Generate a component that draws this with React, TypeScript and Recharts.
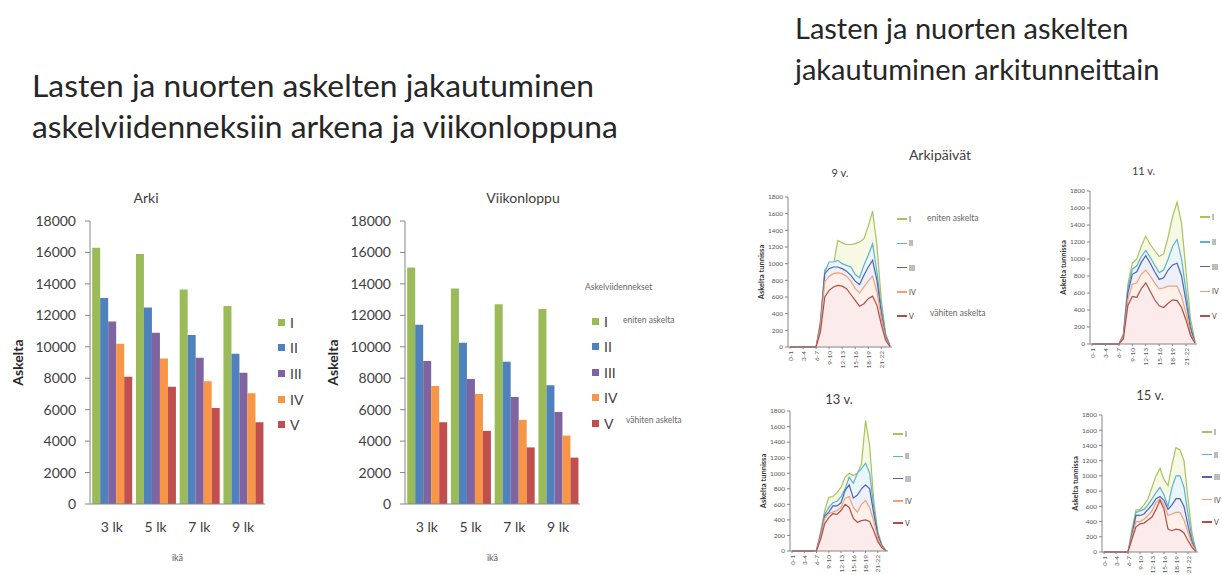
import { Area, AreaChart, Bar, BarChart, XAxis, YAxis } from 'recharts'

const FONT = 'Lato, "Liberation Sans", Arial, sans-serif'
const AXIS = '#868686'
const INK = '#404040'

const GRADES = ['3 lk', '5 lk', '7 lk', '9 lk']
const QUINTILES = ['I', 'II', 'III', 'IV', 'V']
const BAR_COLORS = ['#9bbb59', '#4f81bd', '#8064a2', '#f79646', '#c0504d']
const LINE_COLORS = ['#a8c25c', '#5cb3d1', '#4f64ad', '#f2a07c', '#b24d47']
// pale tints painted under each hourly line
const LINE_TINTS = ['#f7f9e4', '#eaf6fa', '#eef0f9', '#fdf1e9', '#fbeceb']
const STEP_TICKS = [0, 2000, 4000, 6000, 8000, 10000, 12000, 14000, 16000, 18000]

// steps per day on weekdays, one value per grade
const WEEKDAY_I = [16300, 15900, 13650, 12600]
const WEEKDAY_II = [13100, 12500, 10750, 9550]
const WEEKDAY_III = [11600, 10900, 9300, 8350]
const WEEKDAY_IV = [10200, 9250, 7800, 7050]
const WEEKDAY_V = [8100, 7450, 6100, 5200]

// steps per day at weekends
const WEEKEND_I = [15050, 13700, 12700, 12400]
const WEEKEND_II = [11400, 10250, 9050, 7550]
const WEEKEND_III = [9100, 7950, 6800, 5850]
const WEEKEND_IV = [7500, 7000, 5350, 4350]
const WEEKEND_V = [5200, 4650, 3600, 2950]

const HOURS = [
  '0-1', '1-2', '2-3', '3-4', '4-5', '5-6', '6-7', '7-8', '8-9', '9-10', '10-11', '11-12',
  '12-13', '13-14', '14-15', '15-16', '16-17', '17-18', '18-19', '19-20', '20-21', '21-22', '22-23', '23-24',
]
const HOUR_TICKS = [0, 200, 400, 600, 800, 1000, 1200, 1400, 1600, 1800]

// steps per hour on weekdays; rows are quintiles I..V
const AGE9 = [
  [0, 0, 0, 0, 0, 0, 0, 320, 930, 970, 980, 1280, 1250, 1230, 1230, 1240, 1260, 1300, 1450, 1630, 1220, 560, 160, 20],
  [0, 0, 0, 0, 0, 0, 0, 280, 900, 1020, 1020, 1040, 1000, 980, 960, 870, 830, 980, 1100, 1240, 900, 470, 140, 12],
  [0, 0, 0, 0, 0, 0, 0, 270, 880, 940, 960, 960, 940, 910, 860, 790, 750, 860, 960, 1040, 800, 410, 120, 8],
  [0, 0, 0, 0, 0, 0, 0, 230, 780, 850, 880, 890, 880, 850, 790, 700, 650, 720, 790, 850, 660, 340, 100, 8],
  [0, 0, 0, 0, 0, 0, 0, 180, 600, 680, 720, 740, 730, 700, 630, 560, 490, 520, 580, 610, 500, 270, 80, 5],
]
const AGE11 = [
  [0, 0, 0, 0, 0, 0, 0, 120, 700, 950, 1000, 1150, 1270, 1170, 1100, 1030, 1060, 1260, 1500, 1670, 1420, 850, 300, 30],
  [0, 0, 0, 0, 0, 0, 0, 100, 650, 880, 920, 1030, 1100, 1020, 930, 840, 870, 1000, 1150, 1230, 1000, 620, 220, 20],
  [0, 0, 0, 0, 0, 0, 0, 90, 600, 820, 850, 960, 1040, 950, 850, 760, 780, 870, 930, 950, 800, 500, 180, 15],
  [0, 0, 0, 0, 0, 0, 0, 80, 520, 700, 720, 820, 870, 800, 720, 650, 660, 680, 680, 680, 560, 360, 130, 10],
  [0, 0, 0, 0, 0, 0, 0, 60, 450, 560, 550, 650, 720, 620, 520, 450, 430, 480, 520, 510, 430, 280, 100, 8],
]
const AGE13 = [
  [0, 0, 0, 0, 0, 0, 10, 250, 520, 690, 700, 750, 820, 950, 1000, 970, 1000, 1120, 1680, 1350, 650, 250, 80, 5],
  [0, 0, 0, 0, 0, 0, 10, 220, 470, 560, 620, 640, 700, 800, 950, 870, 1000, 1060, 1130, 1000, 560, 220, 70, 5],
  [0, 0, 0, 0, 0, 0, 8, 200, 450, 500, 580, 580, 620, 780, 850, 680, 720, 800, 850, 800, 480, 200, 60, 5],
  [0, 0, 0, 0, 0, 0, 6, 180, 420, 480, 500, 520, 560, 680, 700, 560, 500, 600, 650, 560, 380, 160, 50, 5],
  [0, 0, 0, 0, 0, 0, 5, 150, 350, 430, 480, 470, 520, 600, 560, 420, 370, 390, 400, 380, 260, 120, 40, 3],
]
const AGE15 = [
  [0, 0, 0, 0, 0, 0, 0, 300, 550, 560, 620, 700, 850, 1000, 1100, 950, 870, 1150, 1370, 1340, 1200, 700, 250, 20],
  [0, 0, 0, 0, 0, 0, 0, 250, 520, 540, 560, 620, 700, 780, 850, 750, 600, 850, 1000, 1000, 850, 500, 180, 15],
  [0, 0, 0, 0, 0, 0, 0, 230, 480, 480, 500, 560, 620, 700, 730, 680, 560, 620, 700, 700, 600, 350, 130, 10],
  [0, 0, 0, 0, 0, 0, 0, 200, 400, 400, 430, 480, 540, 650, 700, 620, 480, 500, 520, 520, 420, 260, 100, 8],
  [0, 0, 0, 0, 0, 0, 0, 170, 330, 370, 380, 420, 460, 560, 680, 560, 300, 280, 300, 290, 250, 150, 60, 5],
]

type Row = Record<string, string | number>

function toRows(cats: string[], key: string, series: number[][]): Row[] {
  return cats.map((c, i) => {
    const row: Row = { [key]: c }
    QUINTILES.forEach((q, s) => {
      row[q] = series[s][i]
    })
    return row
  })
}

const weekdayRows = toRows(GRADES, 'grade', [WEEKDAY_I, WEEKDAY_II, WEEKDAY_III, WEEKDAY_IV, WEEKDAY_V])
const weekendRows = toRows(GRADES, 'grade', [WEEKEND_I, WEEKEND_II, WEEKEND_III, WEEKEND_IV, WEEKEND_V])

const abs = (left: number, top: number): React.CSSProperties => ({ position: 'absolute', left, top })

type BarPanelProps = { left: number; title: string; titleX: number; rows: Row[] }

function BarPanel({ left, title, titleX, rows }: BarPanelProps) {
  return (
    <>
      <div style={{ ...abs(titleX - 60, 189), width: 120, textAlign: 'center', fontSize: 14, color: INK }}>{title}</div>
      <div style={abs(left, 180)}>
        <BarChart
          width={300}
          height={390}
          data={rows}
          margin={{ top: 41, right: 35, bottom: 4, left: 13 }}
          barCategoryGap="5%"
          barGap={0}
        >
          <XAxis
            dataKey="grade"
            tickLine={false}
            axisLine={{ stroke: AXIS }}
            tick={{ fill: INK, fontSize: 14, fontFamily: FONT }}
            tickMargin={12}
            height={62}
            label={{
              value: 'ikä',
              position: 'insideBottom',
              style: { fill: '#595959', fontSize: 9, fontFamily: FONT },
            }}
          />
          <YAxis
            domain={[0, 18000]}
            ticks={STEP_TICKS}
            interval={0}
            width={77}
            tickSize={5}
            tickMargin={9}
            axisLine={{ stroke: AXIS }}
            tickLine={{ stroke: AXIS }}
            tick={{ fill: INK, fontSize: 14, fontFamily: FONT }}
            label={{
              value: 'Askelta',
              angle: -90,
              position: 'insideLeft',
              style: { textAnchor: 'middle', fontWeight: 700, fontSize: 14, fill: '#262626', fontFamily: FONT },
            }}
          />
          {QUINTILES.map((q, i) => (
            <Bar key={q} dataKey={q} fill={BAR_COLORS[i]} isAnimationActive={false} />
          ))}
        </BarChart>
      </div>
    </>
  )
}

type LegendProps = {
  x: number
  y: number
  step: number
  fontSize: number
  kind: 'box' | 'line'
  noteX?: number
}

// quintile legend; optional notes mark the most and least active fifth
function QuintileLegend({ x, y, step, fontSize, kind, noteX }: LegendProps) {
  return (
    <>
      {QUINTILES.map((q, i) => {
        const cy = y + i * step
        return (
          <div key={q} style={{ ...abs(x, cy - 8), height: 16, display: 'flex', alignItems: 'center', whiteSpace: 'nowrap' }}>
            {kind === 'box' ? (
              <span style={{ width: 7, height: 7, background: BAR_COLORS[i], marginRight: 5 }} />
            ) : (
              <span style={{ width: 10, height: 1.5, background: LINE_COLORS[i], marginRight: 2 }} />
            )}
            <span style={{ fontSize, color: INK }}>{q}</span>
          </div>
        )
      })}
      {noteX !== undefined && (
        <>
          <div style={{ ...abs(noteX, y - 6), fontSize: 8.5, color: '#666' }}>eniten askelta</div>
          <div style={{ ...abs(noteX + 3, y + 4 * step - 8), fontSize: 8.5, color: '#666' }}>vähiten askelta</div>
        </>
      )}
    </>
  )
}

function HourTick({ x, y, payload }: { x: number; y: number; payload: { value: string } }) {
  return (
    <text
      x={x}
      y={y}
      transform={`rotate(-90 ${x} ${y})`}
      textAnchor="end"
      dominantBaseline="central"
      fontSize={6.5}
      fontFamily={FONT}
      fill="#595959"
    >
      {payload.value}
    </text>
  )
}

type HourPanelProps = {
  x0: number
  x1: number
  yTop: number
  yBottom: number
  title: string
  titleY: number
  titleSize: number
  series: number[][]
}

function HourPanel({ x0, x1, yTop, yBottom, title, titleY, titleSize, series }: HourPanelProps) {
  const rows = toRows(HOURS, 'hour', series)
  const plotW = x1 - x0
  const plotH = yBottom - yTop
  return (
    <>
      <div style={{ ...abs(x0 - 40, titleY - titleSize * 0.7), width: plotW + 80, textAlign: 'center', fontSize: titleSize, color: INK }}>
        {title}
      </div>
      <div style={abs(x0 - 40, yTop - 10)}>
        <AreaChart width={40 + plotW + 6} height={10 + plotH + 34} data={rows} margin={{ top: 10, right: 6, bottom: 4, left: 8 }}>
          <XAxis
            dataKey="hour"
            interval={2}
            height={30}
            tickSize={2}
            tickMargin={2}
            padding={{ left: 2, right: 2 }}
            axisLine={{ stroke: AXIS }}
            tickLine={{ stroke: AXIS }}
            tick={HourTick}
          />
          <YAxis
            domain={[0, 1800]}
            ticks={HOUR_TICKS}
            interval={0}
            width={32}
            tickSize={3}
            tickMargin={2}
            axisLine={{ stroke: AXIS }}
            tickLine={{ stroke: AXIS }}
            tick={{ fill: '#595959', fontSize: 6.5, fontFamily: FONT }}
            label={{
              value: 'Askelta tunnissa',
              angle: -90,
              position: 'insideLeft',
              style: { textAnchor: 'middle', fontWeight: 700, fontSize: 7.5, fill: '#333', fontFamily: FONT },
            }}
          />
          {QUINTILES.map((q, i) => (
            <Area
              key={q}
              type="linear"
              dataKey={q}
              stroke={LINE_COLORS[i]}
              strokeWidth={1.2}
              fill={LINE_TINTS[i]}
              fillOpacity={1}
              dot={false}
              isAnimationActive={false}
            />
          ))}
        </AreaChart>
      </div>
    </>
  )
}

export default function App() {
  return (
    <div
      style={{
        position: 'absolute',
        left: 0,
        top: 0,
        width: 1222,
        height: 575,
        overflow: 'hidden',
        background: '#fff',
        fontFamily: FONT,
      }}
    >
      <div style={{ ...abs(32, 65), fontSize: 31.8, lineHeight: '41px', color: '#262626' }}>
        Lasten ja nuorten askelten jakautuminen
        <br />
        askelviidenneksiin arkena ja viikonloppuna
      </div>
      <div style={{ ...abs(795, 7), fontSize: 29, lineHeight: '41px', color: '#262626' }}>
        Lasten ja nuorten askelten
        <br />
        jakautuminen arkitunneittain
      </div>
      <div style={{ ...abs(880, 146), width: 120, textAlign: 'center', fontSize: 14, color: INK }}>Arkipäivät</div>

      <BarPanel left={0} title="Arki" titleX={146} rows={weekdayRows} />
      <QuintileLegend x={278} y={322} step={25.7} fontSize={14} kind="box" />

      <BarPanel left={315} title="Viikonloppu" titleX={523} rows={weekendRows} />
      <div style={{ ...abs(585, 282), fontSize: 8.5, color: '#666' }}>Askelviidennekset</div>
      <QuintileLegend x={592} y={321} step={25.5} fontSize={14} kind="box" noteX={623} />

      <HourPanel x0={788} x1={892} yTop={197} yBottom={347} title="9 v." titleY={174} titleSize={11} series={AGE9} />
      <QuintileLegend x={897} y={219} step={24.3} fontSize={7} kind="line" noteX={927} />

      <HourPanel x0={1090} x1={1197} yTop={191} yBottom={344} title="11 v." titleY={172} titleSize={11} series={AGE11} />
      <QuintileLegend x={1200} y={217} step={24.8} fontSize={7} kind="line" />

      <HourPanel x0={790} x1={888} yTop={411} yBottom={551} title="13 v." titleY={400} titleSize={13} series={AGE13} />
      <QuintileLegend x={893} y={434} step={22.3} fontSize={7} kind="line" />

      <HourPanel x0={1102} x1={1198} yTop={415} yBottom={552} title="15 v." titleY={396} titleSize={13} series={AGE15} />
      <QuintileLegend x={1202} y={432} step={22.5} fontSize={7} kind="line" />
    </div>
  )
}
